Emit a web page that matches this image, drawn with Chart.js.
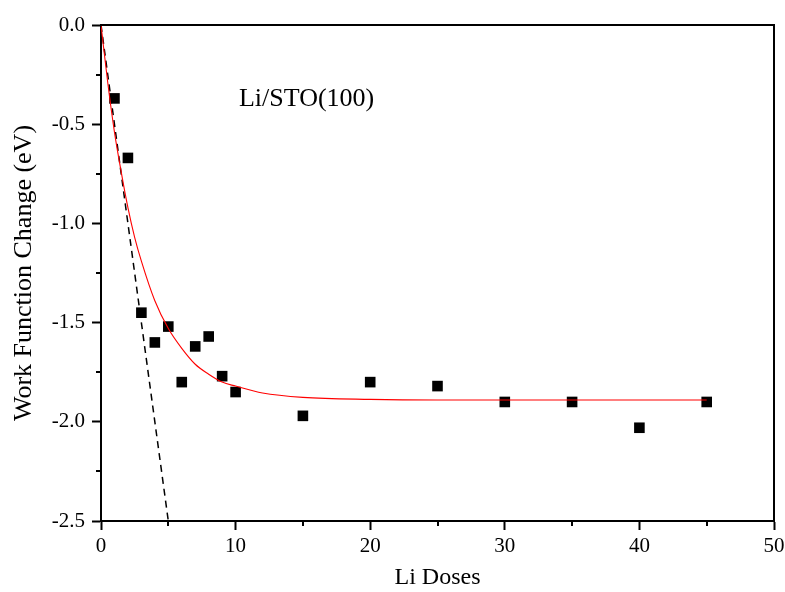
<!DOCTYPE html>
<html>
<head>
<meta charset="utf-8">
<script src="https://cdn.jsdelivr.net/npm/chart.js@4.4.1/dist/chart.umd.min.js"></script>
<style>
  html, body { margin: 0; padding: 0; background: #ffffff; }
  #wrap { width: 785px; height: 592px; position: relative; }
</style>
</head>
<body>
<div id="wrap"><canvas id="c"></canvas></div>
<script>
// Measured work function change vs. Li doses
const doses = [1, 2, 3, 4, 5, 6, 7, 8, 9, 10, 15, 20, 25, 30, 35, 40, 45];
const workFunctionChange = [-0.37, -0.67, -1.45, -1.60, -1.52, -1.80, -1.62, -1.57, -1.77, -1.85, -1.97, -1.80, -1.82, -1.90, -1.90, -2.03, -1.90];

// Fitted saturation curve
const fitDoses = [0, 0.5, 1, 1.5, 2, 2.5, 3, 4, 5, 6, 7, 8, 9, 10, 12, 15, 20, 25, 30, 35, 40, 45];
const fitChange = [0, -0.29, -0.54, -0.74, -0.92, -1.07, -1.19, -1.39, -1.53, -1.63, -1.71, -1.76, -1.80, -1.82, -1.855, -1.877, -1.887, -1.89, -1.89, -1.89, -1.89, -1.89];

// Initial-slope line
const slopeDoses = [0, 5];
const slopeChange = [0, -2.5];

// Axis ticks
const xTicks = [0, 10, 20, 30, 40, 50];
const xMinorTicks = [5, 15, 25, 35, 45];
const yTicks = [0, -0.5, -1.0, -1.5, -2.0, -2.5];
const yMinorTicks = [-0.25, -0.75, -1.25, -1.75, -2.25];

const FONT = "'Liberation Serif', 'Times New Roman', serif";

const toXY = (xs, ys) => xs.map((x, i) => ({ x: x, y: ys[i] }));

// Frame, minor ticks and the in-plot label
const decorations = {
  id: 'decorations',
  afterDraw(chart) {
    const { ctx, chartArea: a, scales } = chart;
    const xs = scales.x, ys = scales.y;
    ctx.save();
    ctx.strokeStyle = '#000';
    ctx.lineWidth = 2;
    ctx.beginPath();
    ctx.moveTo(a.left - 1, a.top);
    ctx.lineTo(a.right + 1, a.top);
    ctx.moveTo(a.right, a.top);
    ctx.lineTo(a.right, a.bottom);
    ctx.stroke();

    ctx.beginPath();
    xMinorTicks.forEach(v => {
      const px = Math.round(xs.getPixelForValue(v));
      ctx.moveTo(px, a.bottom);
      ctx.lineTo(px, a.bottom + 5);
    });
    yMinorTicks.forEach(v => {
      const py = Math.round(ys.getPixelForValue(v));
      ctx.moveTo(a.left, py);
      ctx.lineTo(a.left - 5, py);
    });
    ctx.stroke();

    ctx.fillStyle = '#000';
    ctx.font = '26px ' + FONT;
    ctx.textBaseline = 'middle';
    ctx.textAlign = 'left';
    ctx.fillText('Li/STO(100)', xs.getPixelForValue(10.25), ys.getPixelForValue(-0.375));
    ctx.restore();
  }
};

new Chart(document.getElementById('c'), {
  type: 'scatter',
  data: {
    datasets: [
      {
        label: 'fit',
        type: 'line',
        data: toXY(fitDoses, fitChange),
        borderColor: '#ff0000',
        borderWidth: 1.1,
        pointRadius: 0,
        fill: false,
        cubicInterpolationMode: 'monotone',
        order: 1
      },
      {
        label: 'initial slope',
        type: 'line',
        data: toXY(slopeDoses, slopeChange),
        borderColor: '#000000',
        borderWidth: 1.5,
        borderDash: [7, 5],
        pointRadius: 0,
        fill: false,
        order: 2
      },
      {
        label: 'data',
        data: toXY(doses, workFunctionChange),
        pointStyle: 'rect',
        pointRadius: 7.5,
        pointHoverRadius: 7.5,
        backgroundColor: '#000000',
        borderColor: '#000000',
        borderWidth: 0,
        order: 3
      }
    ]
  },
  options: {
    responsive: true,
    maintainAspectRatio: false,
    animation: false,
    events: [],
    layout: { padding: { top: 25, right: 11, left: 0, bottom: 0 } },
    plugins: {
      legend: { display: false },
      tooltip: { enabled: false }
    },
    scales: {
      x: {
        type: 'linear',
        min: 0,
        max: 50,
        afterBuildTicks: s => { s.ticks = xTicks.map(v => ({ value: v })); },
        afterFit: s => { s.height = 71; s.paddingLeft = 0; s.paddingRight = 0; },
        ticks: {
          color: '#000',
          font: { family: FONT, size: 21 },
          padding: 4,
          maxRotation: 0,
          autoSkip: false,
          callback: v => String(v)
        },
        grid: {
          display: true,
          drawOnChartArea: false,
          drawTicks: true,
          tickLength: 9,
          tickWidth: 2,
          tickColor: '#000'
        },
        border: { display: true, color: '#000', width: 2 },
        title: {
          display: true,
          text: 'Li Doses',
          color: '#000',
          font: { family: FONT, size: 24 },
          padding: { top: 0, bottom: 0 }
        }
      },
      y: {
        type: 'linear',
        min: -2.5,
        max: 0,
        afterBuildTicks: s => { s.ticks = yTicks.map(v => ({ value: v })); },
        afterFit: s => { s.width = 101; s.paddingTop = 0; s.paddingBottom = 0; },
        ticks: {
          color: '#000',
          font: { family: FONT, size: 21 },
          padding: 7,
          autoSkip: false,
          callback: v => Number(v).toFixed(1)
        },
        grid: {
          display: true,
          drawOnChartArea: false,
          drawTicks: true,
          tickLength: 9,
          tickWidth: 2,
          tickColor: '#000'
        },
        border: { display: true, color: '#000', width: 2 },
        title: {
          display: true,
          text: 'Work Function Change (eV)',
          color: '#000',
          font: { family: FONT, size: 26 },
          padding: { top: 9, bottom: 0 }
        }
      }
    }
  },
  plugins: [decorations]
});
</script>
</body>
</html>
